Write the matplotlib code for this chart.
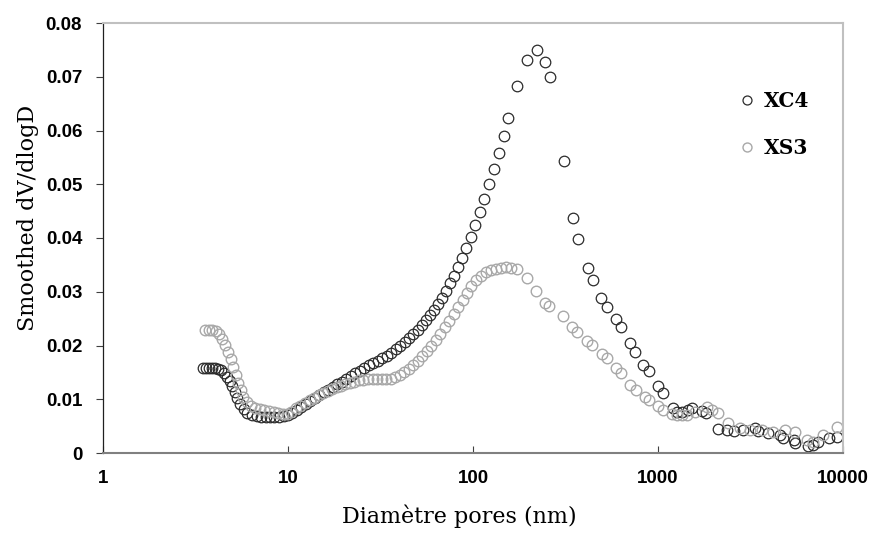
import matplotlib
matplotlib.use('agg')
from matplotlib import pyplot as plt
from matplotlib.font_manager import FontProperties
from matplotlib.ticker import FixedLocator, FuncFormatter, NullLocator

# pore diameter (nm) and smoothed dV/dlogD
xc4_d = [3.47, 3.60, 3.74, 3.88, 4.03, 4.18, 4.34, 4.51, 4.68, 4.83, 4.98, 5.14, 5.30, 5.50, 5.75,
         6.04, 6.39, 6.76, 7.15, 7.56, 7.99, 8.45, 8.94, 9.46, 10.0,
         10.51, 11.19, 11.76, 12.51, 13.15, 13.99, 14.71, 15.65, 16.45, 17.51, 18.41, 19.59, 20.58,
         21.90, 23.02, 24.50, 25.75, 27.41, 28.81, 30.66, 32.22, 34.29, 36.05, 38.36, 40.31, 42.90,
         45.09, 47.40, 50.44, 53.02, 55.73, 58.57, 61.56, 64.71, 68.00, 71.47, 75.12, 78.96, 82.99,
         87.23, 91.68, 97.54, 102.5, 109.1, 114.7, 122.0, 129.9, 138.2, 147.1, 154.6, 172.9, 195.9,
         221.8, 245.0, 260.8, 310.4, 347.1, 369.5, 418.4, 445.3, 491.9, 530.2, 592.9, 631.0, 706.0,
         751.3, 829.9, 894.2, 1000, 1064, 1205, 1267, 1348, 1453, 1527, 1729, 1818, 2110, 2360,
         2576, 2881, 3344, 3471, 3932, 4565, 4740, 5434, 5503, 6471, 6884, 7328, 8401, 9283]
xc4_v = [0.0158, 0.0158, 0.0158, 0.0158, 0.0158, 0.0156, 0.0154, 0.0149, 0.0141, 0.0134, 0.0125,
         0.0113, 0.0102, 0.0091, 0.0082, 0.0075, 0.0071, 0.0068, 0.0067, 0.0067, 0.0067, 0.0067,
         0.0067, 0.0068, 0.0070,
         0.0074, 0.0080, 0.0085, 0.0091, 0.0097, 0.0102, 0.0108, 0.0113, 0.0118, 0.0123, 0.0128,
         0.0133, 0.0138, 0.0143, 0.0148, 0.0153, 0.0158, 0.0163, 0.0168, 0.0172, 0.0176, 0.0180,
         0.0186, 0.0193, 0.0200, 0.0207, 0.0214, 0.0221, 0.0229, 0.0238, 0.0247, 0.0256, 0.0266,
         0.0277, 0.0289, 0.0302, 0.0316, 0.0330, 0.0346, 0.0362, 0.0381, 0.0402, 0.0425, 0.0448,
         0.0473, 0.0500, 0.0528, 0.0559, 0.0590, 0.0623, 0.0683, 0.0731, 0.0750, 0.0727, 0.0699,
         0.0543, 0.0437, 0.0398, 0.0344, 0.0322, 0.0288, 0.0272, 0.0249, 0.0234, 0.0204, 0.0187,
         0.0164, 0.0153, 0.0125, 0.0111, 0.0083, 0.0077, 0.0077, 0.0080, 0.0083, 0.0079, 0.0074,
         0.0044, 0.0043, 0.0041, 0.0043, 0.0046, 0.0041, 0.0037, 0.0033, 0.0027, 0.0024, 0.0018,
         0.0013, 0.0015, 0.0021, 0.0028, 0.0030]

xs3_d = [3.56, 3.72, 3.88, 4.06, 4.24, 4.40, 4.57, 4.74, 4.92, 5.07, 5.24, 5.40, 5.54, 5.71, 5.97,
         6.31, 6.67, 7.06, 7.46, 7.89, 8.35, 8.83, 9.34, 9.88,
         10.44, 11.05, 11.68, 12.36, 13.07, 13.82, 14.62, 15.46, 16.35, 17.29, 18.29, 19.34, 20.45,
         21.63, 22.88, 24.19, 25.59, 27.06, 28.63, 30.27, 32.02, 33.86, 35.82, 37.88, 40.06, 42.36,
         44.81, 47.40, 50.12, 53.02, 56.07, 59.29, 62.71, 66.32, 70.14, 74.18, 78.46, 82.99, 87.77,
         92.81, 98.15, 103.8, 110.5, 117.6, 125.1, 133.2, 141.7, 150.8, 160.5, 172.9, 195.9, 219.0,
         245.0, 257.5, 306.6, 342.8, 364.9, 413.2, 439.8, 498.1, 530.2, 592.9, 631.0, 706.0, 760.6,
         850.7, 894.2, 1000, 1064, 1191, 1267, 1348, 1435, 1585, 1841, 1958, 2110, 2390, 2775,
         3143, 3649, 4184, 4860, 5503, 6389, 6884, 7796, 9283]
xs3_v = [0.0229, 0.0229, 0.0229, 0.0227, 0.0221, 0.0213, 0.0201, 0.0187, 0.0174, 0.0160, 0.0146,
         0.0131, 0.0118, 0.0105, 0.0094, 0.0087, 0.0084, 0.0082, 0.0080, 0.0078, 0.0076, 0.0074,
         0.0073, 0.0072,
         0.0077, 0.0083, 0.0088, 0.0093, 0.0098, 0.0103, 0.0107, 0.0111, 0.0115, 0.0119, 0.0122,
         0.0125, 0.0128, 0.0131, 0.0133, 0.0135, 0.0136, 0.0137, 0.0137, 0.0137, 0.0137, 0.0137,
         0.0138, 0.0141, 0.0145, 0.0150, 0.0156, 0.0163, 0.0171, 0.0180, 0.0190, 0.0200, 0.0211,
         0.0222, 0.0234, 0.0246, 0.0259, 0.0272, 0.0285, 0.0298, 0.0310, 0.0321, 0.0330, 0.0336,
         0.0340, 0.0343, 0.0345, 0.0346, 0.0345, 0.0343, 0.0326, 0.0302, 0.0280, 0.0273, 0.0254,
         0.0235, 0.0226, 0.0209, 0.0201, 0.0185, 0.0176, 0.0158, 0.0148, 0.0127, 0.0117, 0.0105,
         0.0099, 0.0088, 0.0080, 0.0072, 0.0070, 0.0070, 0.0071, 0.0077, 0.0086, 0.0080, 0.0074,
         0.0055, 0.0046, 0.0043, 0.0043, 0.0040, 0.0043, 0.0040, 0.0024, 0.0021, 0.0033, 0.0048]

series_names = ['XC4', 'XS3']
x_ticks = [1, 10, 100, 1000, 10000]
y_ticks = [0, 0.01, 0.02, 0.03, 0.04, 0.05, 0.06, 0.07, 0.08]

fig = plt.figure(figsize=(8.76, 5.34), dpi=100)
ax = fig.add_axes([103/876, 1 - 453/534, 740/876, 430/534])

ax.plot(xc4_d, xc4_v, 'o', ms=7.6, mfc='none', mec='#2b2b2b', mew=0.9, label=series_names[0])
ax.plot(xs3_d, xs3_v, 'o', ms=7.6, mfc='none', mec='#a8a8a8', mew=1.0, label=series_names[1])

ax.set_xscale('log')
ax.set_xlim(1, 10000)
ax.set_ylim(0, 0.08)
ax.xaxis.set_major_locator(FixedLocator(x_ticks))
ax.xaxis.set_minor_locator(NullLocator())
ax.xaxis.set_major_formatter(FuncFormatter(lambda v, p: '%d' % round(v)))
ax.yaxis.set_major_locator(FixedLocator(y_ticks))
ax.yaxis.set_major_formatter(FuncFormatter(lambda v, p: '0' if v == 0 else '%.2f' % v))

tick_font = FontProperties(family='Liberation Sans', weight='bold', size=13.5)
for lab in ax.get_xticklabels() + ax.get_yticklabels():
    lab.set_fontproperties(tick_font)
ax.tick_params(axis='x', direction='in', length=5, width=0.8, color='#404040', pad=12)
ax.tick_params(axis='y', direction='out', length=5, width=0.8, color='#404040', pad=10)

ax.spines['left'].set_color('#202020')
ax.spines['left'].set_linewidth(0.9)
ax.spines['bottom'].set_color('#808080')
ax.spines['bottom'].set_linewidth(1.5)
ax.spines['top'].set_color('#c0c0c0')
ax.spines['top'].set_linewidth(1.5)
ax.spines['right'].set_color('#c0c0c0')
ax.spines['right'].set_linewidth(1.5)

ax.set_xlabel('Diamètre pores (nm)', family='DejaVu Serif', fontsize=16, labelpad=13)
ax.set_ylabel('Smoothed dV/dlogD', family='DejaVu Serif', fontsize=16, labelpad=5)
ax.xaxis.label.set_x(0.482)
ax.yaxis.label.set_y(0.547)

leg = ax.legend(loc='upper left', bbox_to_anchor=(0.835, 0.885), frameon=False,
                prop={'family': 'DejaVu Serif', 'weight': 'bold', 'size': 14.5},
                handlelength=0.8, handletextpad=0.45, labelspacing=1.35, markerscale=0.85)

fig.savefig('out.png', dpi=100)
